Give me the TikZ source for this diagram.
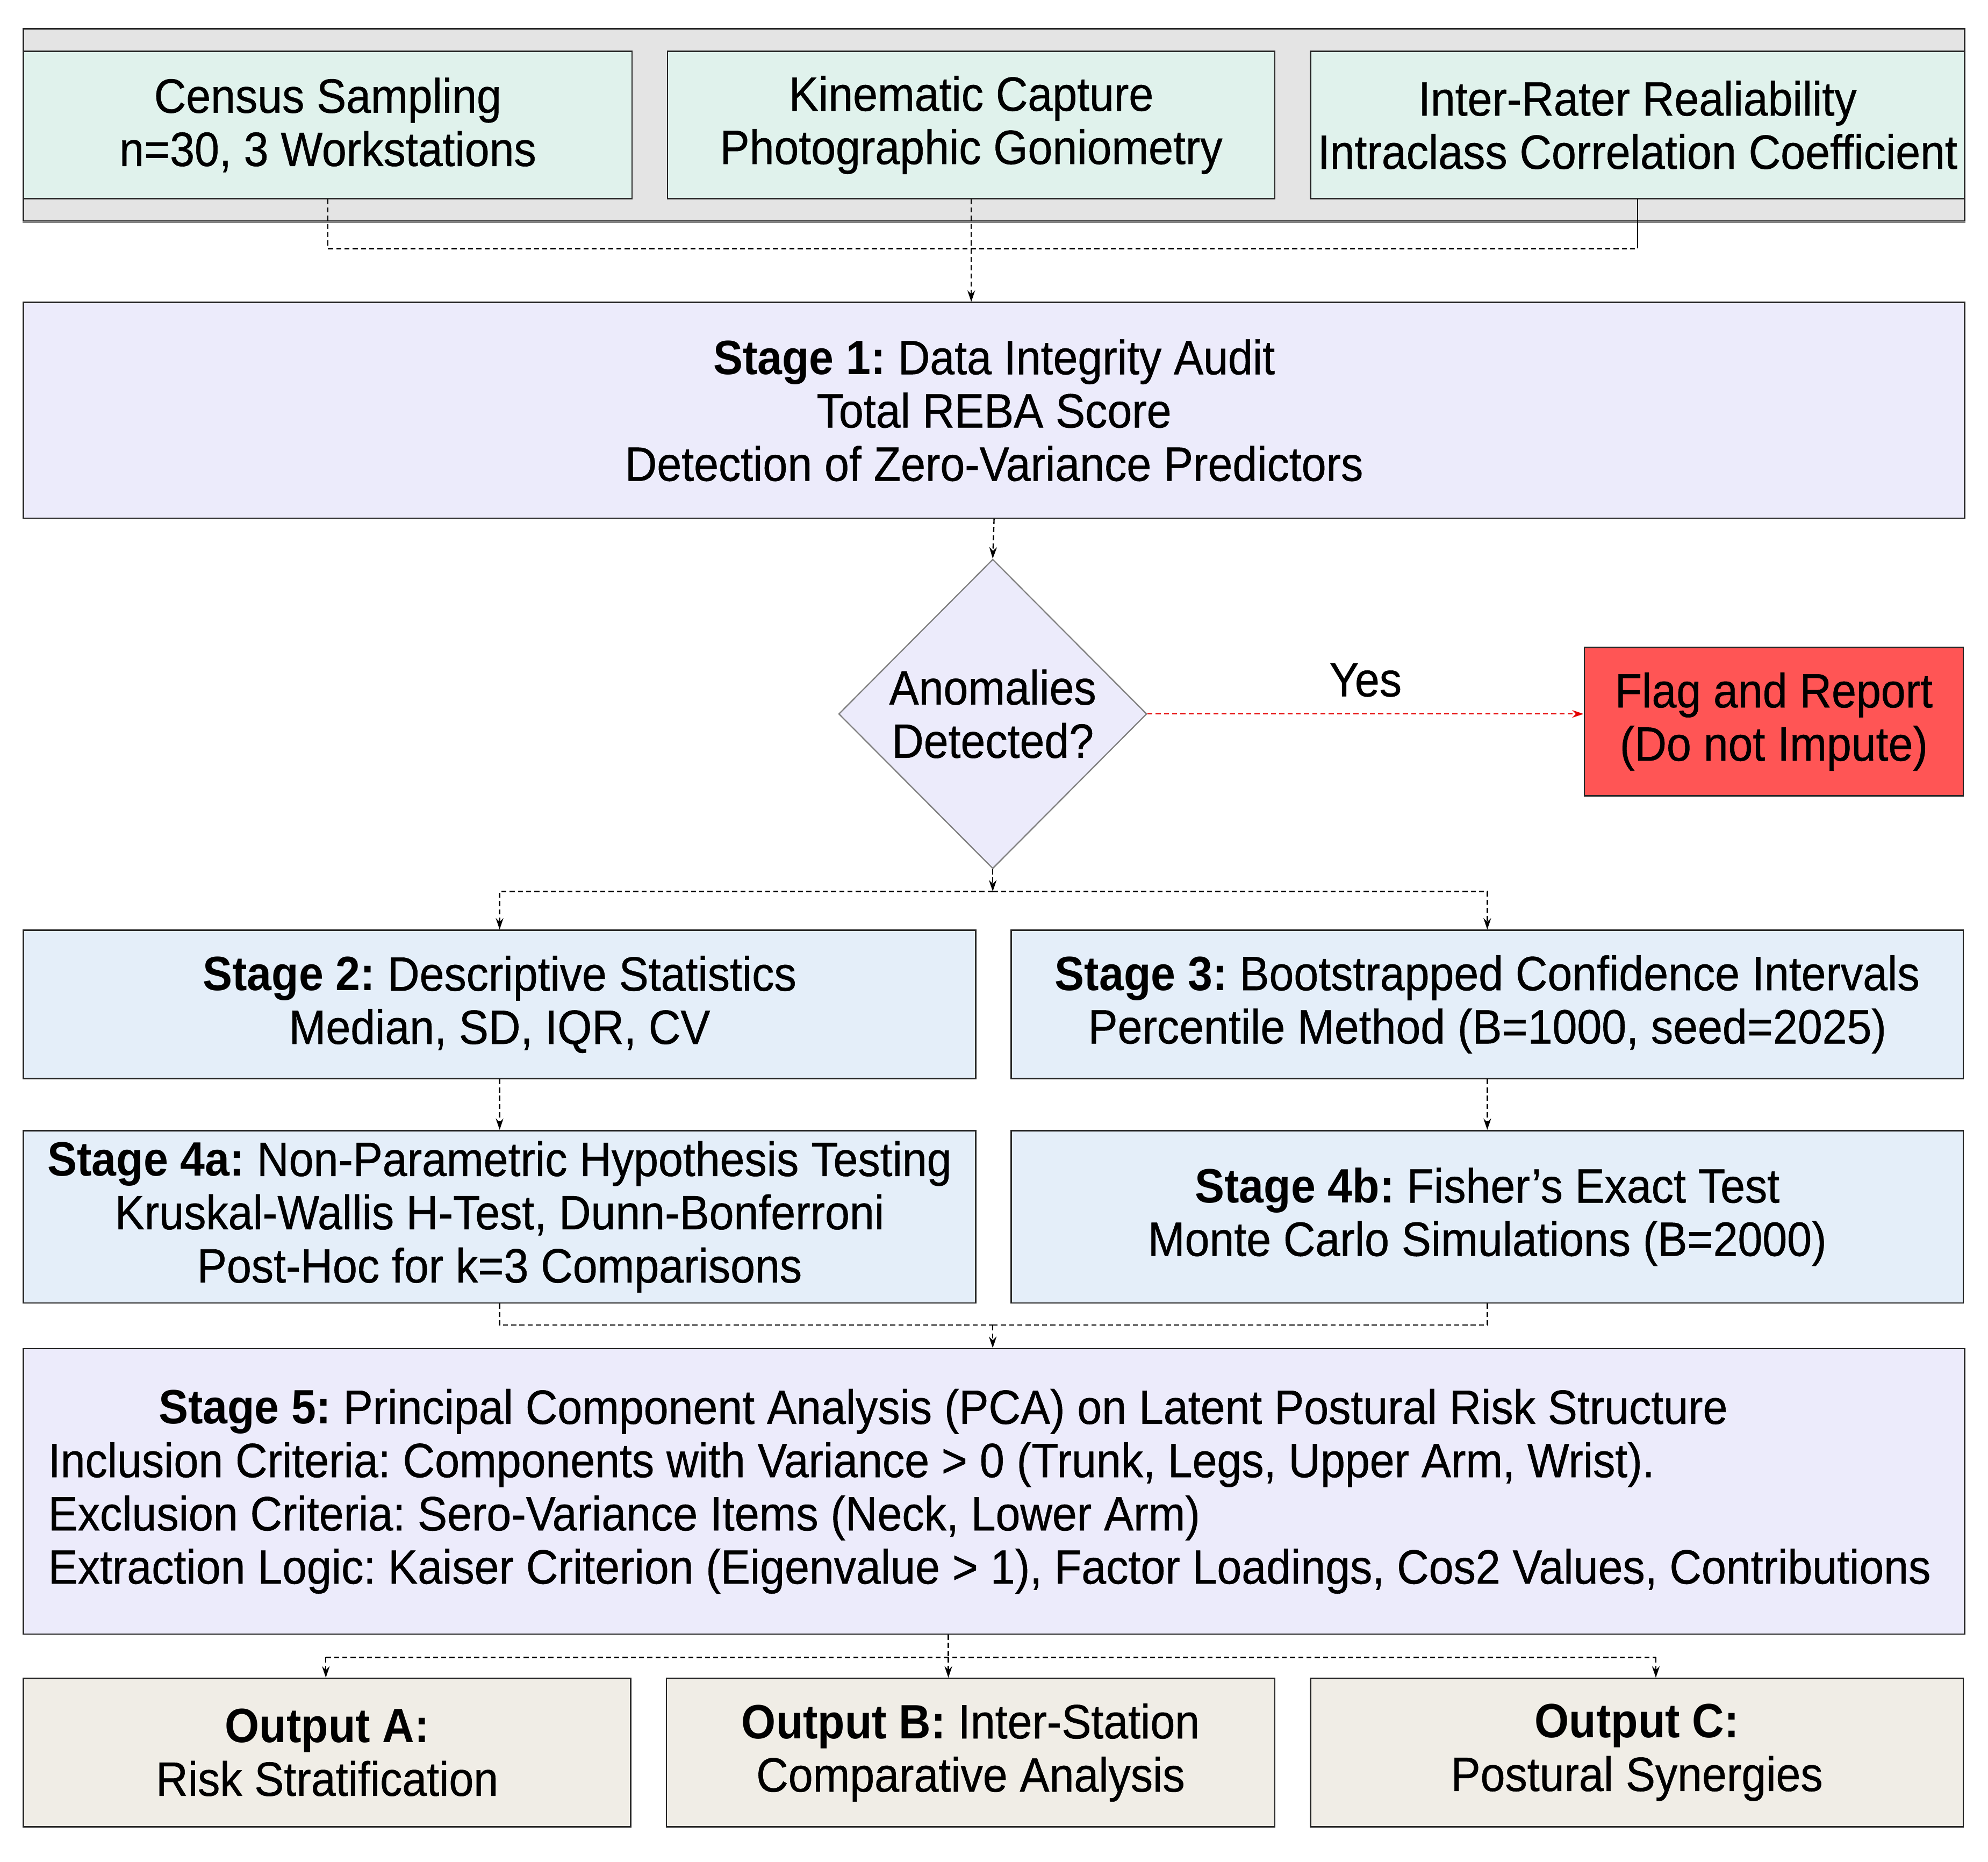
\documentclass[tikz,border=0pt]{standalone}
\usepackage{fontspec}
\setmainfont{Liberation Sans}[FakeStretch=0.92, UprightFeatures={FakeBold=0.6}]
\usetikzlibrary{shapes.geometric,arrows.meta,calc}
\definecolor{mint}{HTML}{E0F2EC}
\definecolor{lav}{HTML}{ECEBFB}
\definecolor{lblue}{HTML}{E4EEF9}
\definecolor{beige}{HTML}{F0EDE6}
\definecolor{flagred}{HTML}{FF5555}
\definecolor{framegrey}{HTML}{E4E4E4}
\tikzset{
  txt/.style={font=\fontsize{38}{42}\selectfont\frenchspacing, align=center, inner sep=0pt},
  box/.style={txt, draw=black!85, line width=1.1pt, anchor=north west},
  dline/.style={draw=black, line width=1pt, dash pattern=on 4pt off 2.5pt},
  sline/.style={draw=black, line width=1pt},
  arr/.style={-{Stealth[length=9pt,width=6pt]}},
  rline/.style={draw=red!90!black, line width=1pt, dash pattern=on 4pt off 2.5pt, -{Stealth[length=9pt,width=6pt]}},
}
\begin{document}
\begin{tikzpicture}[x=1pt,y=-1pt]
\useasboundingbox (0,0) rectangle (1568,1468);
% outer frame
\node[box, fill=framegrey, minimum width=1531pt, minimum height=152pt] (frame) at (18,22) {};
\draw[gray, line width=1.4pt] (frame.south west) -- (frame.south east);
% top boxes
\node[box, fill=mint, minimum width=480pt, minimum height=116pt] (census) at (18,40) {Census Sampling\\n=30, 3 Workstations};
\node[box, fill=mint, minimum width=479pt, minimum height=116pt] (kin) at (526,40) {Kinematic Capture\\Photographic Goniometry};
\node[box, fill=mint, minimum width=516pt, minimum height=116pt] (irr) at (1033,40) {Inter-Rater Realiability\\Intraclass Correlation Coefficient};
% stage 1
\node[box, fill=lav, minimum width=1531pt, minimum height=170pt] (s1) at (18,238) {\textbf{Stage 1:} Data Integrity Audit\\Total REBA Score\\Detection of Zero-Variance Predictors};
% diamond
\node[diamond, draw=gray, line width=1pt, fill=lav, inner sep=0pt, minimum width=243pt, minimum height=244pt] (dia) at (783,563) {};
\node[txt] (diatxt) at (dia.center) {Anomalies\\Detected?};
% flag
\node[box, fill=flagred, minimum width=299pt, minimum height=117pt] (flag) at (1249,510) {Flag and Report\\(Do not Impute)};
% stage 2,3
\node[box, fill=lblue, minimum width=751pt, minimum height=117pt] (s2) at (18,733) {\textbf{Stage 2:} Descriptive Statistics\\Median, SD, IQR, CV};
\node[box, fill=lblue, minimum width=751pt, minimum height=117pt] (s3) at (797,733) {\textbf{Stage 3:} Bootstrapped Confidence Intervals\\Percentile Method (B=1000, seed=2025)};
% stage 4
\node[box, fill=lblue, minimum width=751pt, minimum height=136pt] (s4a) at (18,891) {\textbf{Stage 4a:} Non-Parametric Hypothesis Testing\\Kruskal-Wallis H-Test, Dunn-Bonferroni\\Post-Hoc for k=3 Comparisons};
\node[box, fill=lblue, minimum width=751pt, minimum height=136pt] (s4b) at (797,891) {\textbf{Stage 4b:} Fisher’s Exact Test\\Monte Carlo Simulations (B=2000)};
% stage 5
\node[box, fill=lav, minimum width=1531pt, minimum height=225pt, text width=1492pt, align=flush left] (s5) at (18,1063) {\hspace*{87pt}\textbf{Stage 5:} Principal Component Analysis (PCA) on Latent Postural Risk Structure\\Inclusion Criteria: Components with Variance > 0 (Trunk, Legs, Upper Arm, Wrist).\\Exclusion Criteria: Sero-Variance Items (Neck, Lower Arm)\\Extraction Logic: Kaiser Criterion (Eigenvalue > 1), Factor Loadings, Cos2 Values, Contributions};
% outputs
\node[box, fill=beige, minimum width=479pt, minimum height=117pt] (oA) at (18,1323) {\textbf{Output A:}\\Risk Stratification};
\node[box, fill=beige, minimum width=480pt, minimum height=117pt] (oB) at (525,1323) {\textbf{Output B:} Inter-Station\\Comparative Analysis};
\node[box, fill=beige, minimum width=515pt, minimum height=117pt] (oC) at (1033,1323) {\textbf{Output C:}\\Postural Synergies};
% connectors top
\coordinate (j1) at (1290,196);
\draw[dline] (census.south) |- (j1);
\draw[sline] (irr.south) -- (irr.south |- j1);
\draw[dline, arr] (kin.south) -- (kin.south |- s1.north);
% stage1 to diamond
\draw[dline, arr] (s1.south) -- (dia.north);
\draw[rline] (dia.east) -- node[txt, above=13pt] (yes) {Yes} (dia.east -| flag.west);
% diamond to stage 2/3
\coordinate (br) at (783,703);
\draw[dline, arr] (dia.south) -- (br);
\draw[dline, arr] (br) -| (s2.north);
\draw[dline, arr] (br) -| (s3.north);
\draw[dline, arr] (s2.south) -- (s4a.north);
\draw[dline, arr] (s3.south) -- (s4b.north);
% stage 4 to 5
\coordinate (m) at (783,1045);
\draw[dline] (s4a.south) |- (m);
\draw[dline] (s4b.south) |- (m);
\draw[dline, arr] (m) -- (m |- s5.north);
% stage 5 to outputs
\coordinate (b) at (748,1307);
\coordinate (cA) at (257,1307);
\coordinate (cC) at (1306,1307);
\draw[dline] (b |- s5.south) -- (b);
\draw[dline] (cA) -- (cC);
\draw[dline, arr] (cA) -- (cA |- oA.north);
\draw[dline, arr] (b) -- (b |- oB.north);
\draw[dline, arr] (cC) -- (cC |- oC.north);
\end{tikzpicture}
\end{document}
